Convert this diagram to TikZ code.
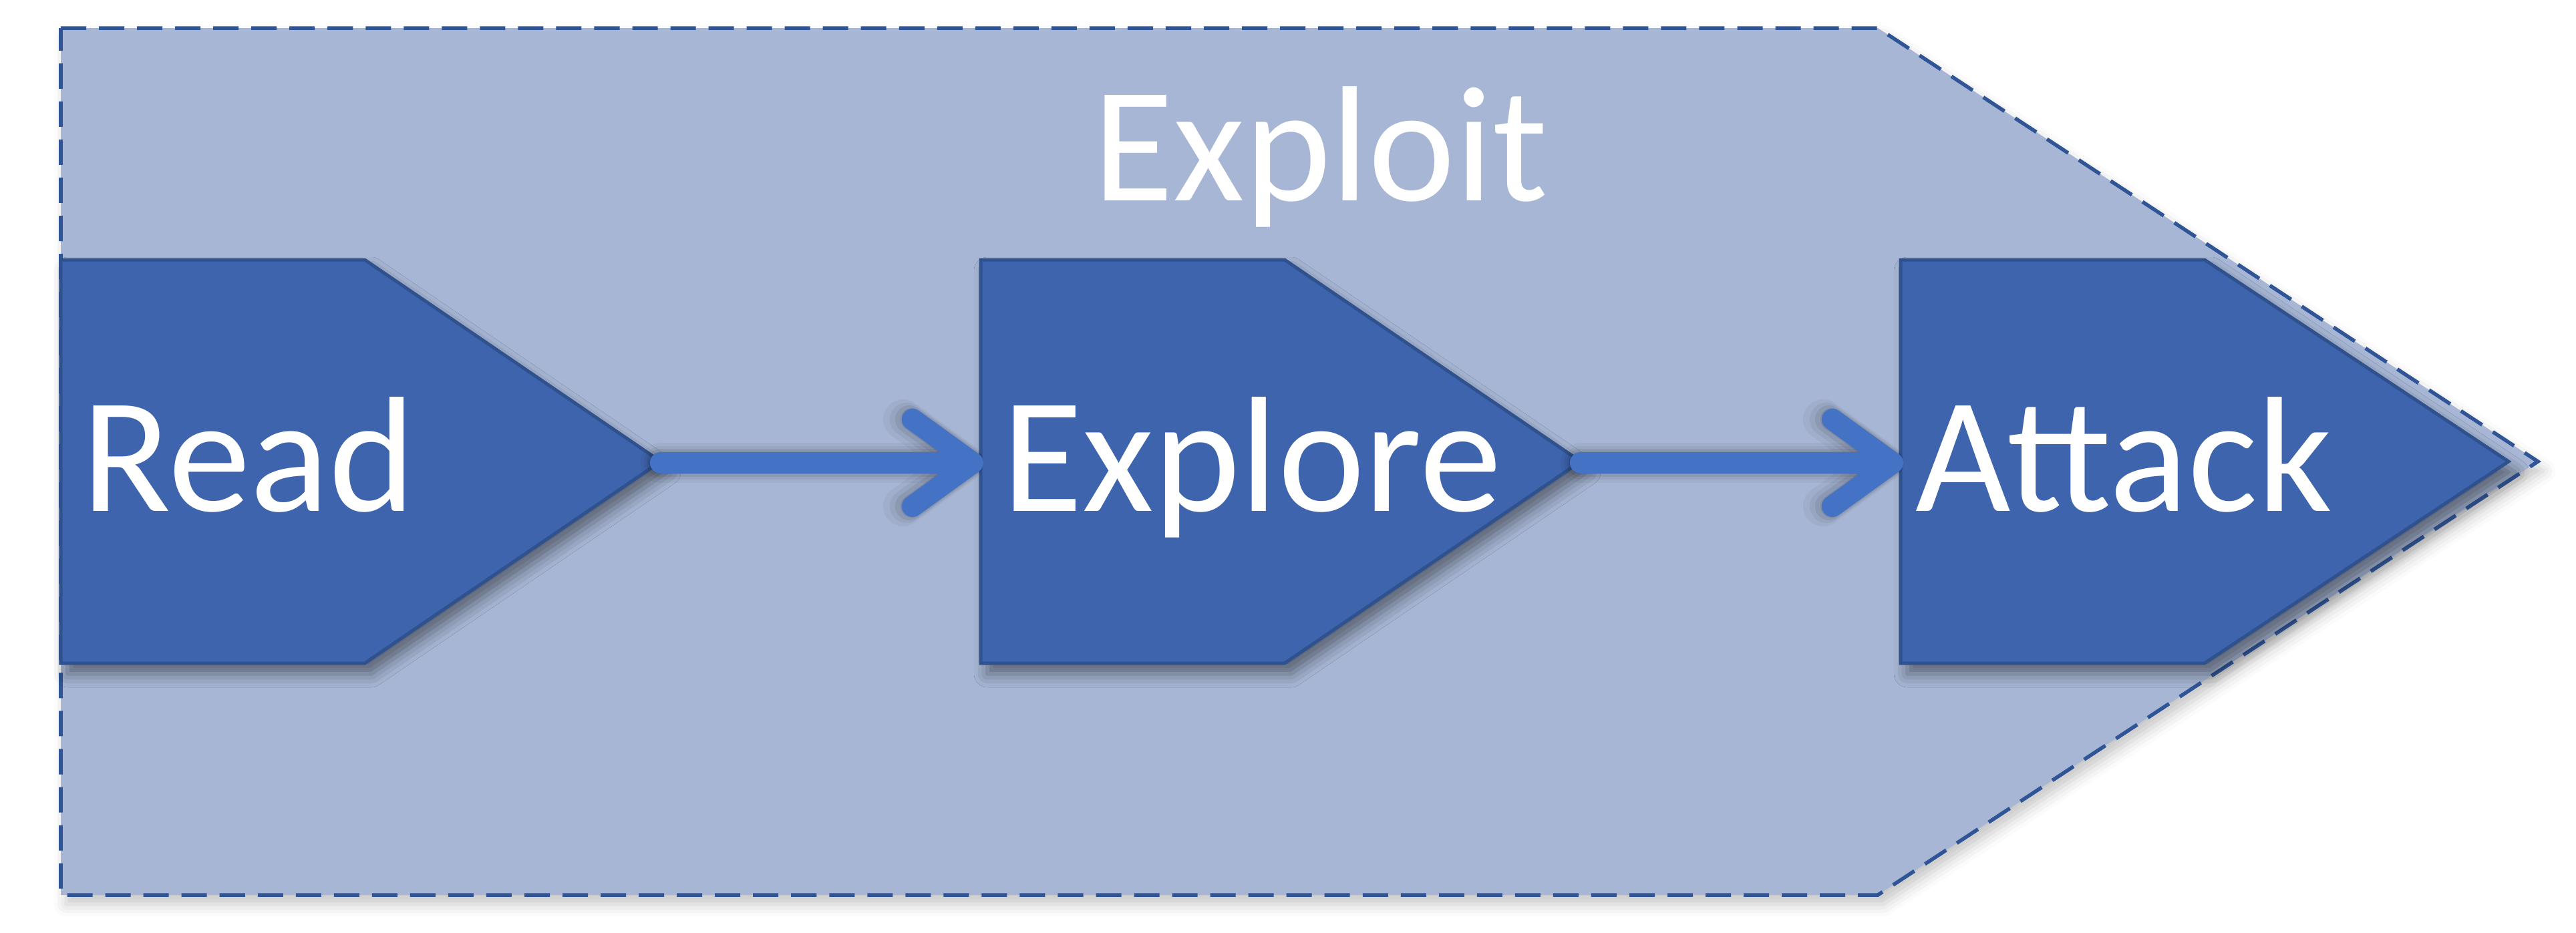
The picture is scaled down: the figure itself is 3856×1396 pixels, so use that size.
\documentclass[tikz,border=0pt]{standalone}
\usepackage{fontspec}
\setmainfont{Carlito}
\usetikzlibrary{arrows.meta,shadows.blur}
\definecolor{outerfill}{HTML}{A7B6D4}
\definecolor{outerline}{HTML}{2F5597}
\definecolor{boxfill}{HTML}{3E64AD}
\definecolor{boxline}{HTML}{2F528F}
\definecolor{arrowcol}{HTML}{4472C4}
\begin{document}
\begin{tikzpicture}[x=0.01cm,y=-0.01cm,
  outershape/.style={fill=outerfill, draw=outerline, line width=0.055cm,
    dash pattern=on 0.38cm off 0.19cm,
    blur shadow={shadow xshift=0.08cm, shadow yshift=-0.14cm, shadow opacity=22, shadow blur radius=0.18cm}},
  stagebox/.style={fill=boxfill, draw=boxline, line width=0.05cm,
    blur shadow={shadow xshift=0.1cm, shadow yshift=-0.16cm, shadow opacity=45, shadow blur radius=0.2cm}},
  stagetext/.style={text=white, inner sep=0pt, font=\fontsize{70}{82}\selectfont},
  flow/.style={draw=arrowcol, line width=0.32cm, line cap=round, line join=round,
    -{Straight Barb[length=0.9cm, width=1.3cm, round]}},
  flowshadow/.style={draw=black, line cap=round, line join=round,
    -{Straight Barb[length=0.9cm, width=1.3cm, round]}, xshift=0.07cm, yshift=-0.12cm}
]
\useasboundingbox (0,0) rectangle (3856,1396);
% outer pentagon
\draw[outershape] (91,42) -- (2811,42) -- (3799,691) -- (2811,1340) -- (91,1340) -- cycle;
% stage boxes
\draw[stagebox] (91,389) -- (546,389) -- (989,691) -- (546,993) -- (91,993) -- cycle;
\draw[stagebox] (1468,389) -- (1923,389) -- (2366,691) -- (1923,993) -- (1468,993) -- cycle;
\draw[stagebox] (2845,389) -- (3300,389) -- (3755,691) -- (3300,993) -- (2845,993) -- cycle;
\coordinate (readtip) at (989,693);
\coordinate (explorein) at (1472,693);
\coordinate (exploretip) at (2366,693);
\coordinate (attackin) at (2849,693);
% connector shadows
\foreach \w/\o in {0.6/0.04,0.5/0.05,0.42/0.07,0.34/0.09}{
  \draw[flowshadow, line width=\w cm, draw opacity=\o] (readtip) -- (explorein);
  \draw[flowshadow, line width=\w cm, draw opacity=\o] (exploretip) -- (attackin);
}
% connectors
\draw[flow] (readtip) -- (explorein);
\draw[flow] (exploretip) -- (attackin);
% texts
\node[stagetext, anchor=base] (exploit) at (1977,300) {Exploit};
\node[stagetext, anchor=base west] (read) at (122,765) {Read};
\node[stagetext, anchor=base west] (explore) at (1500,765) {Explore};
\node[stagetext, anchor=base west] (attack) at (2867,765) {Attack};
\end{tikzpicture}
\end{document}
